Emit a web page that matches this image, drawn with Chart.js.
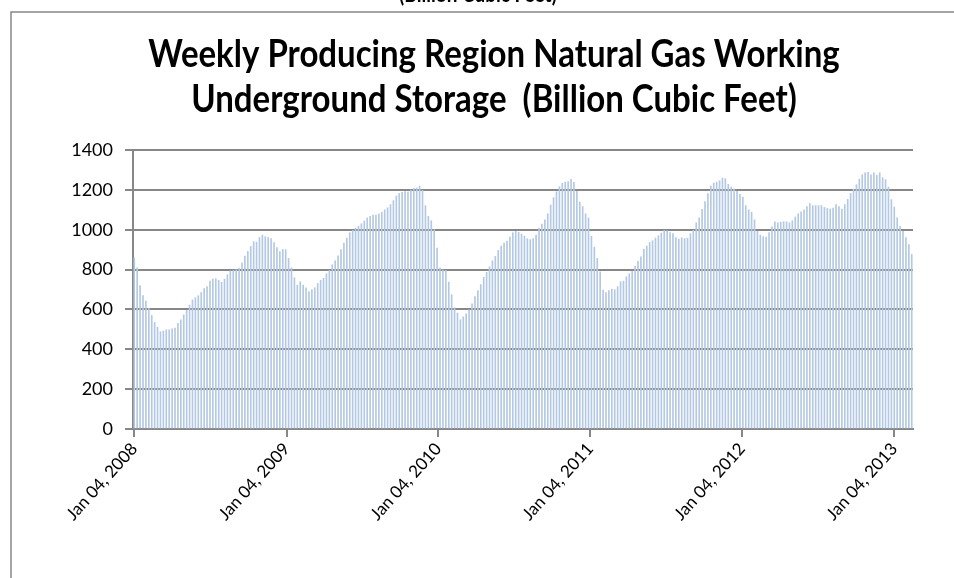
<!DOCTYPE html>
<html>
<head>
<meta charset="utf-8">
<script src="https://cdn.jsdelivr.net/npm/chart.js@4.4.0/dist/chart.umd.min.js"></script>
<style>
  html, body { margin: 0; padding: 0; background: #fff; }
</style>
</head>
<body>
<canvas id="chartStorage" width="954" height="578"></canvas>
<script>
const titleLines = [
  "Weekly Producing Region Natural Gas Working",
  "Underground Storage  (Billion Cubic Feet)",
];
const cutOffText = "(Billion Cubic Feet)";

const firstWeek = "2008-01-04";
const tickDates = ["2008-01-04", "2009-01-04", "2010-01-04", "2011-01-04", "2012-01-04", "2013-01-04"];
const tickLabels = ["Jan 04, 2008", "Jan 04, 2009", "Jan 04, 2010", "Jan 04, 2011", "Jan 04, 2012", "Jan 04, 2013"];

// weekly storage, Bcf (52 weeks per row from Jan 04, 2008)
const weeks2008 = [858, 809, 720, 669, 642, 605, 570, 535, 511, 488, 491, 498, 498, 503, 506, 530, 548, 573, 595, 622, 648, 659, 669, 685, 704, 715, 742, 752, 754, 746, 736, 752, 774, 794, 796, 799, 807, 833, 868, 891, 916, 940, 938, 961, 973, 965, 961, 955, 935, 910, 890, 901];
const weeks2009 = [900, 856, 809, 759, 722, 739, 722, 709, 689, 699, 709, 730, 746, 756, 779, 796, 824, 844, 869, 900, 933, 958, 985, 997, 1008, 1017, 1030, 1044, 1059, 1067, 1074, 1074, 1079, 1087, 1100, 1110, 1126, 1146, 1169, 1182, 1187, 1191, 1189, 1199, 1208, 1209, 1219, 1198, 1121, 1067, 1045, 1000];
const weeks2010 = [908, 809, 799, 796, 737, 674, 608, 582, 548, 563, 578, 598, 628, 665, 695, 725, 761, 786, 814, 844, 866, 896, 918, 933, 943, 963, 985, 992, 987, 978, 968, 955, 950, 955, 973, 1008, 1028, 1050, 1080, 1124, 1161, 1191, 1216, 1233, 1239, 1241, 1253, 1238, 1193, 1139, 1116, 1080];
const weeks2011 = [1059, 967, 913, 856, 789, 697, 685, 695, 702, 699, 714, 739, 742, 764, 779, 792, 816, 841, 864, 901, 918, 936, 945, 958, 970, 983, 997, 995, 985, 980, 961, 953, 960, 956, 958, 980, 997, 1035, 1059, 1102, 1141, 1181, 1219, 1234, 1239, 1246, 1259, 1256, 1228, 1214, 1204, 1193];
const weeks2012 = [1177, 1164, 1121, 1100, 1087, 1050, 992, 973, 965, 963, 985, 1015, 1040, 1035, 1038, 1040, 1040, 1035, 1045, 1064, 1080, 1090, 1100, 1116, 1131, 1121, 1121, 1121, 1121, 1112, 1107, 1104, 1109, 1126, 1116, 1104, 1126, 1152, 1182, 1203, 1226, 1254, 1276, 1286, 1288, 1276, 1286, 1273, 1286, 1261, 1251, 1214];
const weeks2013 = [1151, 1114, 1060, 1017, 992, 960, 925, 876];

const storage = [].concat(weeks2008, weeks2009, weeks2010, weeks2011, weeks2012, weeks2013);

const DAY = 86400000;
const start = Date.parse(firstWeek);
const dayOf = (s) => Math.round((Date.parse(s) - start) / DAY);

const points = storage.map((v, i) => ({ x: i * 7, y: v }));
const tickDays = tickDates.map(dayOf);

const gridGray = "#878787";
const barBlue = "#b3c8e3";

// text a bit taller than wide, like the reference
function tallText(ctx, text, x, baseline, stretch) {
  ctx.save();
  ctx.translate(x, baseline);
  ctx.scale(1, stretch);
  ctx.fillText(text, 0, 0);
  ctx.restore();
}

// frame and title, drawn straight on the canvas
const decor = {
  id: "decor",
  beforeDraw(chart) {
    const ctx = chart.ctx;
    ctx.save();
    ctx.fillStyle = "#fff";
    ctx.fillRect(0, 0, chart.width, chart.height);
    ctx.restore();
  },
  afterDraw(chart) {
    const ctx = chart.ctx;
    ctx.save();
    ctx.strokeStyle = gridGray;
    ctx.lineWidth = 1.5;
    ctx.beginPath();
    ctx.moveTo(11, 578);
    ctx.lineTo(11, 12);
    ctx.lineTo(954, 12);
    ctx.stroke();

    ctx.fillStyle = "#000";
    ctx.textAlign = "center";
    ctx.textBaseline = "alphabetic";
    ctx.font = "bold 19px Lato";
    tallText(ctx, cutOffText, 478, 2, 1.18);
    ctx.font = "bold 33px Lato";
    tallText(ctx, titleLines[0], 494, 67, 1.18);
    tallText(ctx, titleLines[1], 494, 112, 1.18);
    ctx.restore();
  },
};

const config = {
  type: "bar",
  data: {
    datasets: [
      {
        label: "Storage",
        data: points,
        backgroundColor: barBlue,
        borderWidth: 0,
        barThickness: 1,
      },
    ],
  },
  options: {
    responsive: false,
    animation: false,
    layout: { padding: { left: 0, top: 150, right: 41, bottom: 0 } },
    plugins: {
      legend: { display: false },
      title: { display: false },
      tooltip: { enabled: false },
    },
    scales: {
      x: {
        type: "linear",
        min: -3,
        max: 1872,
        offset: false,
        afterBuildTicks: (scale) => {
          scale.ticks = tickDays.map((d) => ({ value: d }));
        },
        afterFit: (scale) => {
          scale.height = 149;
        },
        ticks: {
          autoSkip: false,
          minRotation: 48,
          maxRotation: 48,
          padding: 2,
          color: "#000",
          font: { family: "Lato", size: 17 },
          callback: (value, index) => tickLabels[index],
        },
        grid: {
          offset: false,
          drawOnChartArea: false,
          drawTicks: true,
          tickLength: 8,
          color: gridGray,
          lineWidth: 2,
        },
        border: { color: gridGray, width: 2 },
      },
      y: {
        min: 0,
        max: 1400,
        afterFit: (scale) => {
          scale.width = 133;
        },
        ticks: {
          stepSize: 200,
          padding: 12,
          color: "#000",
          font: { family: "Lato", size: 18 },
          callback: (value) => String(value),
        },
        grid: {
          color: gridGray,
          lineWidth: 2,
          tickLength: 8,
        },
        border: { color: gridGray, width: 2 },
      },
    },
  },
  plugins: [decor],
};

const chartStorage = new Chart(document.getElementById("chartStorage"), config);
</script>
</body>
</html>
